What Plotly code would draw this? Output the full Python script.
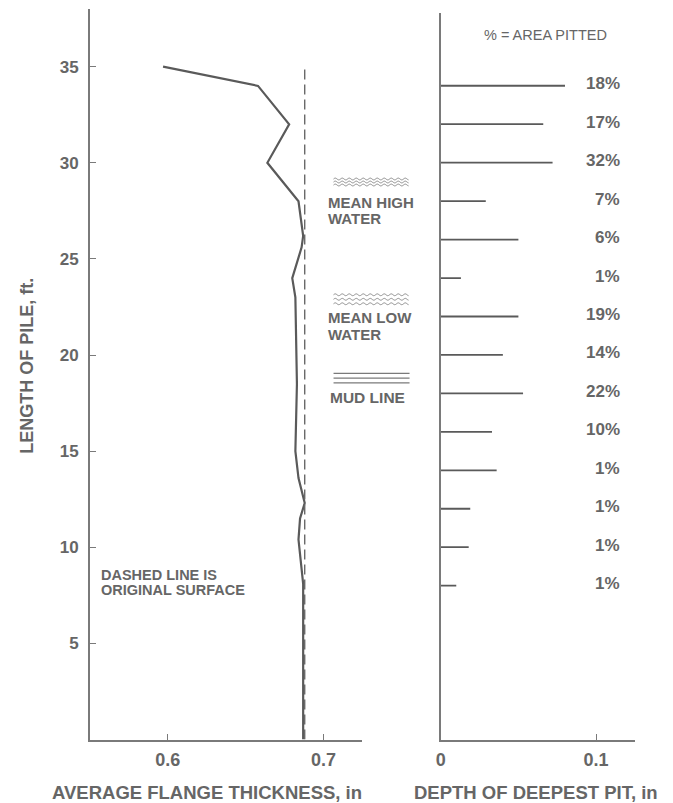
import numpy as np
import plotly.graph_objects as go

W, H = 673, 803

# Average flange thickness measured along the pile (length from tip, ft)
pile_length_ft = [0, 4.6, 8.1, 10.4, 11.5, 12.3, 13.6, 15.0, 18.5, 23.0, 24.0,
                  25.6, 26.2, 28.0, 30.0, 32.0, 34.0, 35.0]
flange_thickness_in = [0.687, 0.687, 0.687, 0.684, 0.685, 0.688, 0.684, 0.682,
                       0.683, 0.682, 0.680, 0.686, 0.687, 0.684, 0.664, 0.678,
                       0.658, 0.597]

# Original (as-rolled) flange surface
original_thickness_in = 0.688
original_span_ft = [0, 35]

# Deepest pit found in each 2-ft section, with the share of area pitted
pit_length_ft = [34, 32, 30, 28, 26, 24, 22, 20, 18, 16, 14, 12, 10, 8]
pit_depth_in = [0.080, 0.066, 0.072, 0.029, 0.050, 0.013, 0.050, 0.040,
                0.053, 0.033, 0.036, 0.019, 0.018, 0.010]
area_pitted_pct = [18, 17, 32, 7, 6, 1, 19, 14, 22, 10, 1, 1, 1, 1]

# Tide and mud levels on the pile, ft
mean_high_water_ft = 29.0
mean_low_water_ft = 22.9
mud_line_ft = 18.8

# Axis ticks
length_ticks = [5, 10, 15, 20, 25, 30, 35]
thickness_ticks = [0.6, 0.7]
thickness_ticklabels = ["0.6", "0.7"]
pit_ticks = [0, 0.1]
pit_ticklabels = ["0", "0.1"]

FONT = "Liberation Sans, Arial, sans-serif"
INK = "#5a5a5a"
TEXT = "#666666"
AXIS = "#7a7a7a"


def px_x(p):
    return p / W


def px_y(p):
    return 1 - p / H


fig = go.Figure()

# Measured thickness profile
fig.add_trace(go.Scatter(
    x=flange_thickness_in, y=pile_length_ft, mode="lines",
    line=dict(color=INK, width=2.2), xaxis="x", yaxis="y",
    hoverinfo="skip",
))

# Original surface, dashed
fig.add_trace(go.Scatter(
    x=[original_thickness_in] * len(original_span_ft), y=original_span_ft,
    mode="lines", line=dict(color="#6a6a6a", width=1.4, dash="10px,5px"),
    xaxis="x", yaxis="y", hoverinfo="skip",
))

# Deepest pit per section: one horizontal stroke from zero to the depth
seg_x, seg_y = [], []
for depth_ft, depth_in in zip(pit_length_ft, pit_depth_in):
    seg_x += [0, depth_in, None]
    seg_y += [depth_ft, depth_ft, None]
fig.add_trace(go.Scatter(
    x=seg_x, y=seg_y, mode="lines", line=dict(color=INK, width=1.8),
    xaxis="x2", yaxis="y2", hoverinfo="skip",
))

tick_font_x = dict(family=FONT, size=18, color=TEXT, weight="bold")
tick_font_y = dict(family=FONT, size=17, color=TEXT, weight="bold")

left_x0, left_x1 = px_x(85.5), px_x(360)
right_x0, right_x1 = px_x(439), px_x(634.6)
y_bottom = px_y(739.5)

fig.update_layout(
    width=W, height=H,
    margin=dict(l=0, r=0, t=0, b=0),
    paper_bgcolor="white", plot_bgcolor="white",
    showlegend=False,
    xaxis=dict(
        domain=[left_x0, left_x1], range=[0.55, 0.725], anchor="y",
        tickvals=thickness_ticks, ticktext=thickness_ticklabels,
        ticks="inside", ticklen=6, tickwidth=1.3, tickcolor=AXIS,
        showline=True, linecolor=AXIS, linewidth=1.5,
        showgrid=False, zeroline=False, tickfont=tick_font_x,
        ticklabelstandoff=3,
    ),
    yaxis=dict(
        domain=[y_bottom, px_y(9)], range=[0, 38], anchor="x",
        tickvals=length_ticks, ticks="inside", ticklen=6, tickwidth=1.3,
        tickcolor=AXIS, showline=True, linecolor=AXIS, linewidth=1.5,
        showgrid=False, zeroline=False, tickfont=tick_font_y,
        ticklabelstandoff=6,
    ),
    xaxis2=dict(
        domain=[right_x0, right_x1], range=[0, 0.125], anchor="y2",
        tickvals=pit_ticks, ticktext=pit_ticklabels,
        ticks="inside", ticklen=6, tickwidth=1.3, tickcolor=AXIS,
        showline=True, linecolor=AXIS, linewidth=1.5,
        showgrid=False, zeroline=False, tickfont=tick_font_x,
        ticklabelstandoff=3,
    ),
    yaxis2=dict(
        domain=[y_bottom, px_y(12.7)], range=[0, 37.8], anchor="x2",
        showticklabels=False, ticks="", showline=True, linecolor=AXIS,
        linewidth=1.5, showgrid=False, zeroline=False,
    ),
)

annotations = []


def label(text, x, y, size, xanchor="left", weight="bold", **kw):
    annotations.append(dict(
        text=text, x=x, y=y, xanchor=xanchor, yanchor="middle",
        showarrow=False, font=dict(family=FONT, size=size, color=TEXT, weight=weight),
        **kw,
    ))


# Axis titles
label("AVERAGE FLANGE THICKNESS, in", px_x(204), px_y(792), 18.5,
      xanchor="center", xref="paper", yref="paper")
label("DEPTH OF DEEPEST PIT, in", px_x(535), px_y(792), 18.5,
      xanchor="center", xref="paper", yref="paper")
label("LENGTH OF PILE, ft.", px_x(22), px_y(366), 18,
      xanchor="center", xref="paper", yref="paper", textangle=-90)

# Notes
label("% = AREA PITTED", px_x(545), px_y(35), 14.5, xanchor="center",
      weight="normal", xref="paper", yref="paper")
label("DASHED LINE IS", px_x(95), px_y(574.5), 14.5, xref="paper", yref="paper")
label("ORIGINAL SURFACE", px_x(95), px_y(589.5), 14.5, xref="paper", yref="paper")

# Area-pitted percentages beside each bar
for depth_ft, pct in zip(pit_length_ft, area_pitted_pct):
    label(f"{pct}%", px_x(622), depth_ft, 17, xanchor="right",
          xref="paper", yref="y2", yshift=2)

# Level labels between the panels
level_x = px_x(323)
label("MEAN HIGH", level_x, mean_high_water_ft, 15, xref="paper", yref="y", yshift=-20)
label("WATER", level_x, mean_high_water_ft, 15, xref="paper", yref="y", yshift=-36)
label("MEAN LOW", level_x, mean_low_water_ft, 15, xref="paper", yref="y", yshift=-18.5)
label("WATER", level_x, mean_low_water_ft, 15, xref="paper", yref="y", yshift=-35.5)
label("MUD LINE", px_x(325), mud_line_ft, 15.5, xref="paper", yref="y", yshift=-19)

fig.update_layout(annotations=annotations)


# Level symbols: wavy lines for water, straight lines for mud
def wave_path(offset, length=75, period=7.0, amp=0.9):
    xs = np.arange(0, length + 0.5, 0.5)
    ys = offset + amp * np.sin(2 * np.pi * xs / period)
    return "M" + " L".join(f"{x:.1f},{y:.2f}" for x, y in zip(xs, ys))


def level_shape(path, level, color, width):
    return dict(
        type="path", path=path, xref="paper", yref="y",
        xsizemode="pixel", ysizemode="pixel",
        xanchor=px_x(331), yanchor=level,
        line=dict(color=color, width=width),
    )


shapes = []
for off in (-3, 0, 3):
    shapes.append(level_shape(wave_path(off), mean_high_water_ft, "#8a8a8a", 1))
for off in (-4.5, 0, 4.5):
    shapes.append(level_shape(wave_path(off), mean_low_water_ft, "#8a8a8a", 1))
for off in (-4.7, 0, 4.7):
    shapes.append(level_shape(f"M0,{off} L76,{off}", mud_line_ft, "#7a7a7a", 1.2))

fig.update_layout(shapes=shapes)

fig.write_html("out.html")
